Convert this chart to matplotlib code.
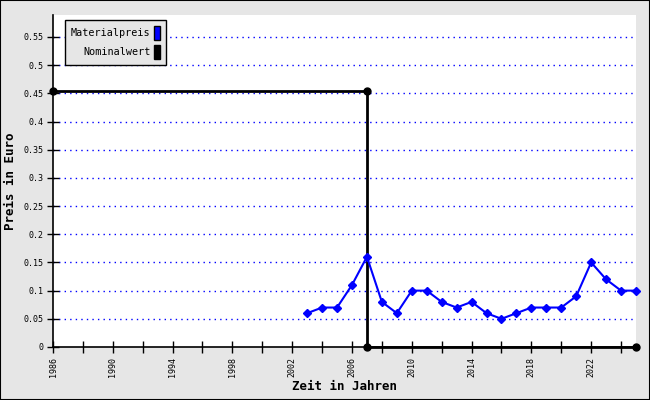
import matplotlib
matplotlib.use('Agg')
import matplotlib.pyplot as plt
from matplotlib.patches import Patch, Rectangle

years = list(range(2003, 2026))
material = [0.06, 0.07, 0.07, 0.11, 0.16, 0.08, 0.06, 0.10, 0.10, 0.08, 0.07, 0.08,
            0.06, 0.05, 0.06, 0.07, 0.07, 0.07, 0.09, 0.15, 0.12, 0.10, 0.10]

nominal_years = [1986, 2007, 2007, 2025]
nominal = [0.455, 0.455, 0.0, 0.0]

y_ticks = [0, 0.05, 0.1, 0.15, 0.2, 0.25, 0.3, 0.35, 0.4, 0.45, 0.5, 0.55]
y_labels = ['0', '0.05', '0.1', '0.15', '0.2', '0.25', '0.3', '0.35', '0.4', '0.45', '0.5', '0.55']
x_ticks = list(range(1986, 2025, 2))
x_labels = [str(y) if (y - 1986) % 4 == 0 else '' for y in x_ticks]

font = 'DejaVu Sans Mono'
bg = '#e6e6e6'

fig = plt.figure(figsize=(6.5, 4), dpi=100, facecolor=bg)
fig.patches.append(Rectangle((0, 0), 1, 1, transform=fig.transFigure, fill=False,
                             edgecolor='black', linewidth=1.5))
ax = fig.add_axes([53 / 650, 53 / 400, 583 / 650, 332 / 400])
ax.set_facecolor('white')

for y in y_ticks[1:]:
    ax.axhline(y, color='blue', linestyle=(0, (1, 3)), linewidth=1, zorder=1)

ax.plot(nominal_years, nominal, color='black', linewidth=2, marker='o',
        markersize=5, zorder=3, clip_on=False)
ax.plot(years, material, color='blue', linewidth=1.5, marker='D',
        markersize=4, zorder=4, clip_on=False)

ax.set_xlim(1986, 2025)
ax.set_ylim(0, 0.589)
ax.set_xticks(x_ticks)
ax.set_xticklabels(x_labels, rotation=90, fontsize=6, family=font)
ax.set_yticks(y_ticks)
ax.set_yticklabels(y_labels, fontsize=6, family=font)
ax.tick_params(direction='inout', length=8, width=1, color='black', pad=3)

for s in ['top', 'right']:
    ax.spines[s].set_visible(False)
for s in ['left', 'bottom']:
    ax.spines[s].set_linewidth(1.2)

ax.set_xlabel('Zeit in Jahren', fontsize=9, fontweight='bold', family=font, labelpad=2)
ax.set_ylabel('Preis in Euro', fontsize=9, fontweight='bold', family=font)
ax.yaxis.set_label_coords(-36 / 583, 0.5)

handles = [Patch(facecolor='blue', edgecolor='black', label='Materialpreis'),
           Patch(facecolor='black', edgecolor='black', label='Nominalwert')]
leg = ax.legend(handles=handles, loc='upper left', bbox_to_anchor=(12 / 583, 1 - 5 / 332),
                markerfirst=False, fancybox=False, framealpha=1, facecolor=bg,
                edgecolor='black', prop={'family': font, 'size': 7.3},
                handlelength=0.6, handleheight=1.7, handletextpad=0.35,
                labelspacing=0.55, borderpad=0.6, borderaxespad=0)
for t in leg.get_texts():
    t.set_ha('right')
leg.get_frame().set_linewidth(1)

fig.savefig('out.png', dpi=100, facecolor=bg)
